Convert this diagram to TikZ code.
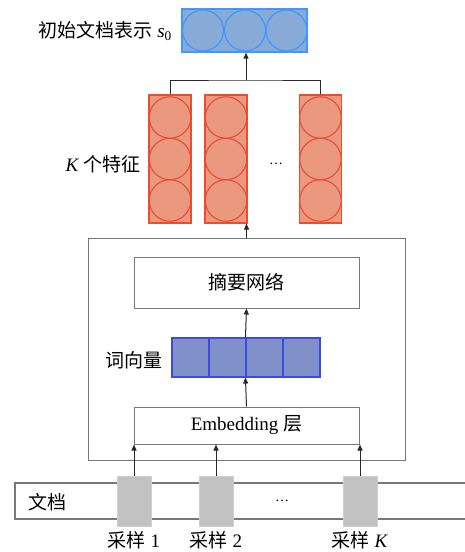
\documentclass[tikz,border=0pt]{standalone}
\usepackage{fontspec}
\setmainfont{Liberation Serif}
\newfontfamily\cjk{Noto Sans CJK SC}
\usetikzlibrary{arrows.meta,calc}
\definecolor{topfill}{RGB}{136,170,214}
\definecolor{topline}{RGB}{64,152,255}
\definecolor{redfill}{RGB}{234,152,126}
\definecolor{redline}{RGB}{232,78,52}
\definecolor{wvfill}{RGB}{130,144,202}
\definecolor{wvline}{RGB}{62,74,230}
\definecolor{smpfill}{RGB}{194,194,194}
\definecolor{boxline}{RGB}{120,120,120}
\definecolor{arr}{RGB}{40,40,40}
\tikzset{
  txt/.style={font=\fontsize{19}{22}\selectfont, inner sep=0pt},
  dotstxt/.style={font=\fontsize{14}{16}\selectfont, inner sep=0pt},
  plainbox/.style={draw=boxline, line width=1pt, fill=white, inner sep=0pt, font=\fontsize{19}{22}\selectfont},
  topbox/.style={draw=topline, line width=1.2pt, fill=topfill, minimum width=125pt, minimum height=43pt, inner sep=0pt},
  topcirc/.style={circle, draw=topline, line width=1.2pt, minimum size=41pt, inner sep=0pt},
  redcol/.style={draw=redline, line width=1.2pt, fill=redfill, minimum width=42pt, minimum height=128pt, inner sep=0pt},
  redcirc/.style={circle, draw=redline, line width=1.1pt, minimum size=41.5pt, inner sep=0pt},
  wvcell/.style={draw=wvline, line width=1.1pt, fill=wvfill, minimum width=37pt, minimum height=39pt, inner sep=0pt},
  smpbox/.style={draw=smpfill!80!white, line width=0.8pt, fill=smpfill, minimum width=34pt, minimum height=50pt, inner sep=0pt},
  conn/.style={draw=arr, line width=1pt},
  arrow/.style={conn, -{Triangle[length=6pt,width=5pt]}}
}
\begin{document}
\begin{tikzpicture}[x=1pt,y=-1pt]
\useasboundingbox (0,0) rectangle (465,552);
% top representation
\node[topbox] (s0) at (244.5,30.5) {};
\node[topcirc] (t1) at (203,30.5) {};
\node[topcirc] (t2) at (245,30.5) {};
\node[topcirc] (t3) at (286.5,30.5) {};
\node[txt, anchor=east] (s0lab) at (172,31) {{\cjk 初始文档表示} \textit{s}\textsubscript{0}};
% K features
\foreach \n/\x in {f1/170,f2/226,fK/320.5}{
  \node[redcol] (\n) at (\x,159) {};
  \node[redcirc] (\n a) at (\x,117.5) {};
  \node[redcirc] (\n b) at (\x,159) {};
  \node[redcirc] (\n c) at (\x,200.5) {};
}
\node[dotstxt] (fdots) at (276,164) {…};
\node[txt, anchor=east] (klab) at (141,164) {\textit{K} {\cjk 个特征}};
\coordinate (jn) at (246,80);
\draw[conn] (f1.north) |- (jn) -| (fK.north);
\draw[arrow] (jn) -- (s0.south -| jn);
% outer box
\node[plainbox, minimum width=317pt, minimum height=222pt, fill=none] (outer) at (246.5,349) {};
\node[plainbox, minimum width=225pt, minimum height=51pt] (sum) at (246.5,282.5) {\cjk 摘要网络};
% word vectors
\node[wvcell] (w1) at (190.5,357.5) {};
\node[wvcell] (w2) at (227.5,357.5) {};
\node[wvcell] (w3) at (264.5,357.5) {};
\node[wvcell] (w4) at (301.5,357.5) {};
\node[txt, anchor=east] (wlab) at (163,360) {\cjk 词向量};
% embedding
\node[plainbox, minimum width=225pt, minimum height=37pt] (emb) at (246.5,425.5) {Embedding {\cjk 层}};
% arrows inside
\draw[arrow] (emb.north) -- (w3.south west);
\draw[arrow] (w3.north west) -- (sum.south);
\draw[arrow] (outer.north -| sum.north) -- (sum.north |- f2.south);
% document bar
\coordinate (dr1) at (465,483);
\coordinate (dr2) at (465,519);
\draw[draw=boxline, line width=1.1pt] (dr1) -- (15,483) -- (15,519) -- (dr2);
\node[txt] (doc) at (47,502) {\cjk 文档};
\node[dotstxt] (ddots) at (282,501) {…};
% samples
\node[smpbox] (p1) at (134,501) {};
\node[smpbox] (p2) at (216,501) {};
\node[smpbox] (pK) at (360,501) {};
\node[txt] (l1) at (134,540) {{\cjk 采样} 1};
\node[txt] (l2) at (216,540) {{\cjk 采样} 2};
\node[txt] (lK) at (360,540) {{\cjk 采样} \textit{K}};
\foreach \p in {p1,p2,pK}{
  \draw[arrow] (\p.north) -- (\p.north |- emb.south);
}
\end{tikzpicture}
\end{document}
